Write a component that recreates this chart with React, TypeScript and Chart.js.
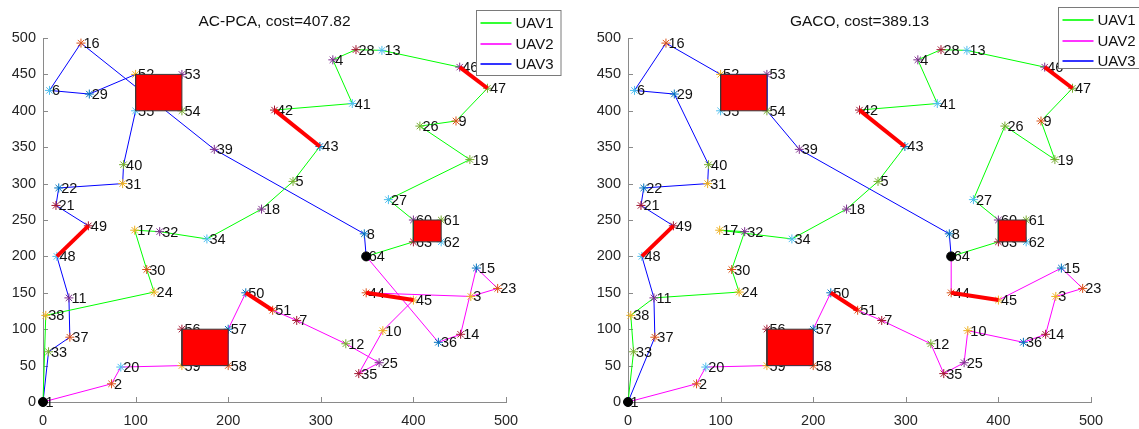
import React, { useEffect, useRef } from 'react';
import { Chart, registerables } from 'chart.js';

Chart.register(...registerables);

const FONT = '"Liberation Sans", Arial, Helvetica, sans-serif';

// node coordinates, node id = index + 1
const nodeX = [
  0, 74, 462, 313, 270, 7, 274, 347, 446, 367,
  28, 327, 366, 451, 468, 41, 99, 236, 461, 84,
  14, 17, 491, 120, 363, 407, 373, 338, 50, 112,
  86, 126, 6, 177, 341, 427, 29, 3, 185, 87,
  334, 250, 299, 349, 400, 450, 480, 15, 49, 219,
  248, 100, 150, 150, 100, 150, 200, 200, 150, 400,
  430, 430, 400, 349,
];
const nodeY = [
  0, 25, 145, 470, 303, 428, 112, 231, 386, 98,
  143, 80, 483, 93, 184, 493, 236, 265, 333, 48,
  270, 294, 156, 151, 54, 379, 278, 484, 423, 182,
  300, 234, 69, 224, 39, 82, 89, 119, 347, 326,
  410, 401, 351, 150, 140, 460, 431, 200, 242, 150,
  126, 450, 450, 400, 400, 100, 100, 50, 50, 250,
  250, 220, 220, 200,
];

// routes (node ids)
const acpcaUav1 = [1, 38, 24, 30, 17, 32, 34, 18, 5, 43, 42, 41, 4, 28, 13, 46, 47, 9, 26, 19, 27, 60, 63, 64];
const acpcaUav2 = [1, 2, 20, 59, 58, 57, 50, 51, 7, 12, 25, 35, 10, 45, 44, 3, 23, 15, 14, 36, 64];
const acpcaUav3 = [1, 33, 37, 11, 48, 49, 21, 22, 31, 40, 55, 52, 29, 6, 16, 39, 8, 64];

const gacoUav1 = [1, 33, 38, 11, 24, 30, 32, 17, 34, 18, 5, 43, 42, 41, 4, 28, 13, 46, 47, 9, 19, 26, 27, 60, 63, 64];
const gacoUav2 = [1, 2, 20, 59, 58, 57, 50, 51, 7, 12, 35, 25, 10, 36, 14, 3, 23, 15, 45, 44, 64];
const gacoUav3 = [1, 37, 11, 48, 49, 21, 22, 31, 40, 29, 6, 16, 52, 53, 54, 39, 8, 64];

// paired nodes (thick red links)
const pairs = [[42, 43], [46, 47], [48, 49], [50, 51], [44, 45]];
// obstacles: x1, y1, x2, y2
const obstacles = [[100, 400, 150, 450], [150, 50, 200, 100], [400, 220, 430, 250]];
const depots = [1, 64];

const xTicks = [0, 100, 200, 300, 400, 500];
const yTicks = [0, 50, 100, 150, 200, 250, 300, 350, 400, 450, 500];

const uavNames = ['UAV1', 'UAV2', 'UAV3'];
const uavColors = ['#00ff00', '#ff00ff', '#0000ff'];
const markerPalette = ['#0072BD', '#D95319', '#EDB120', '#7E2F8E', '#77AC30', '#4DBEEE', '#A2142F'];

const AXIS = '#8a8a8a';
const TEXT = '#262626';

type PanelSpec = {
  title: string;
  routes: number[][];
  padLeft: number;
  padRight: number;
  legend: { x: number; y: number; w: number; h: number };
};

const panels: { left: number; width: number; spec: PanelSpec }[] = [
  {
    left: 0,
    width: 570,
    spec: {
      title: 'AC-PCA, cost=407.82',
      routes: [acpcaUav1, acpcaUav2, acpcaUav3],
      padLeft: 0,
      padRight: 64,
      legend: { x: 476.5, y: 10.5, w: 84.5, h: 65 },
    },
  },
  {
    left: 570,
    width: 569,
    spec: {
      title: 'GACO, cost=389.13',
      routes: [gacoUav1, gacoUav2, gacoUav3],
      padLeft: 15,
      padRight: 48,
      legend: { x: 488.5, y: 7.5, w: 90, h: 61 },
    },
  },
];

const pt = (id: number) => ({ x: nodeX[id - 1], y: nodeY[id - 1] });

function buildConfig(p: PanelSpec): any {
  const datasets: any[] = [];
  p.routes.forEach((r, k) => {
    datasets.push({
      type: 'line',
      data: r.map(pt),
      borderColor: uavColors[k],
      borderWidth: 1,
      pointRadius: 0,
      fill: false,
      tension: 0,
      order: 50,
      clip: false,
    });
  });
  datasets.push({
    type: 'scatter',
    role: 'markers',
    data: nodeX.map((x, i) => ({ x, y: nodeY[i] })),
    pointStyle: 'star',
    pointRadius: 4.5,
    pointBorderWidth: 1,
    pointBorderColor: nodeX.map((_, i) => markerPalette[i % 7]),
    pointBackgroundColor: nodeX.map((_, i) => markerPalette[i % 7]),
    order: 40,
    clip: false,
  });
  pairs.forEach(([a, b]) => {
    datasets.push({
      type: 'line',
      data: [pt(a), pt(b)],
      borderColor: '#ff0000',
      borderWidth: 4,
      borderCapStyle: 'butt',
      pointRadius: 0,
      fill: false,
      order: 30,
      clip: false,
    });
  });
  obstacles.forEach(([x1, y1, x2, y2]) => {
    datasets.push({
      type: 'line',
      data: [
        { x: x1, y: y1 },
        { x: x2, y: y1 },
        { x: x2, y: y2 },
        { x: x1, y: y2 },
        { x: x1, y: y1 },
      ],
      borderColor: '#3a3a3a',
      borderWidth: 1,
      backgroundColor: '#ff0000',
      fill: 'shape',
      pointRadius: 0,
      tension: 0,
      order: 20,
      clip: false,
    });
  });
  datasets.push({
    type: 'scatter',
    data: depots.map(pt),
    pointStyle: 'circle',
    pointRadius: 4.5,
    pointBorderWidth: 1,
    pointBackgroundColor: '#000000',
    pointBorderColor: '#000000',
    order: 10,
    clip: false,
  });

  const deco = {
    id: 'deco',
    beforeDatasetsDraw(chart: any) {
      const { ctx, chartArea } = chart;
      const xs = chart.scales.x;
      const ys = chart.scales.y;
      ctx.save();
      ctx.strokeStyle = AXIS;
      ctx.lineWidth = 1;
      ctx.beginPath();
      xTicks.forEach((v) => {
        const px = Math.round(xs.getPixelForValue(v)) + 0.5;
        ctx.moveTo(px, chartArea.bottom);
        ctx.lineTo(px, chartArea.bottom - 5);
      });
      yTicks.forEach((v) => {
        const py = Math.round(ys.getPixelForValue(v)) + 0.5;
        ctx.moveTo(chartArea.left, py);
        ctx.lineTo(chartArea.left + 5, py);
      });
      ctx.stroke();
      ctx.restore();
    },
    afterDatasetDraw(chart: any, args: any) {
      const ds = chart.data.datasets[args.index];
      if (ds.role !== 'markers') return;
      const { ctx } = chart;
      const xs = chart.scales.x;
      const ys = chart.scales.y;
      ctx.save();
      ctx.fillStyle = '#111111';
      ctx.font = `14.5px ${FONT}`;
      ctx.textAlign = 'left';
      ctx.textBaseline = 'middle';
      nodeX.forEach((x, i) => {
        ctx.fillText(String(i + 1), xs.getPixelForValue(x) + 2.5, ys.getPixelForValue(nodeY[i]) + 1);
      });
      ctx.restore();
    },
    afterDraw(chart: any) {
      const { ctx, chartArea } = chart;
      ctx.save();
      // title
      ctx.fillStyle = '#111111';
      ctx.font = `15.5px ${FONT}`;
      ctx.textAlign = 'center';
      ctx.textBaseline = 'middle';
      ctx.fillText(p.title, (chartArea.left + chartArea.right) / 2, 22);
      // legend
      const L = p.legend;
      ctx.fillStyle = '#ffffff';
      ctx.fillRect(L.x, L.y, L.w, L.h);
      ctx.strokeStyle = '#7a7a7a';
      ctx.lineWidth = 1;
      ctx.strokeRect(L.x, L.y, L.w, L.h);
      const rows = [12.5, 33, 53];
      ctx.font = `15px ${FONT}`;
      ctx.textAlign = 'left';
      uavNames.forEach((name, k) => {
        const yy = L.y + rows[k];
        ctx.strokeStyle = uavColors[k];
        ctx.lineWidth = 1.6;
        ctx.beginPath();
        ctx.moveTo(L.x + 4, Math.round(yy));
        ctx.lineTo(L.x + 35, Math.round(yy));
        ctx.stroke();
        ctx.fillStyle = '#111111';
        ctx.fillText(name, L.x + 39, yy + 1);
      });
      ctx.restore();
    },
  };

  return {
    type: 'scatter',
    data: { datasets },
    options: {
      responsive: false,
      animation: false,
      devicePixelRatio: 1,
      events: [],
      layout: { padding: { left: p.padLeft, right: p.padRight, top: 38, bottom: 0 } },
      plugins: {
        legend: { display: false },
        title: { display: false },
        tooltip: { enabled: false },
      },
      scales: {
        x: {
          type: 'linear',
          min: 0,
          max: 500,
          afterBuildTicks: (s: any) => {
            s.ticks = xTicks.map((v) => ({ value: v }));
          },
          afterFit: (s: any) => {
            s.height = 27;
          },
          grid: { display: false, drawTicks: false },
          border: { display: true, color: AXIS, width: 1 },
          ticks: {
            color: TEXT,
            font: { family: FONT, size: 14.5 },
            padding: 10,
            maxRotation: 0,
            autoSkip: false,
          },
        },
        y: {
          type: 'linear',
          min: 0,
          max: 500,
          afterBuildTicks: (s: any) => {
            s.ticks = yTicks.map((v) => ({ value: v }));
          },
          afterFit: (s: any) => {
            s.width = 43;
          },
          grid: { display: false, drawTicks: false },
          border: { display: true, color: AXIS, width: 1 },
          ticks: {
            color: TEXT,
            font: { family: FONT, size: 14.5 },
            padding: 7,
            autoSkip: false,
          },
        },
      },
    },
    plugins: [deco],
  };
}

function Panel({ left, width, spec }: { left: number; width: number; spec: PanelSpec }) {
  const ref = useRef<HTMLCanvasElement>(null);
  useEffect(() => {
    const chart = new Chart(ref.current as HTMLCanvasElement, buildConfig(spec));
    return () => chart.destroy();
  }, []);
  return (
    <canvas
      ref={ref}
      width={width}
      height={429}
      style={{ position: 'absolute', left, top: 0, width, height: 429 }}
    />
  );
}

export default function App() {
  return (
    <div
      style={{
        position: 'fixed',
        left: 0,
        top: 0,
        width: 1139,
        height: 429,
        background: '#ffffff',
        overflow: 'hidden',
      }}
    >
      {panels.map((p, i) => (
        <Panel key={i} left={p.left} width={p.width} spec={p.spec} />
      ))}
    </div>
  );
}
